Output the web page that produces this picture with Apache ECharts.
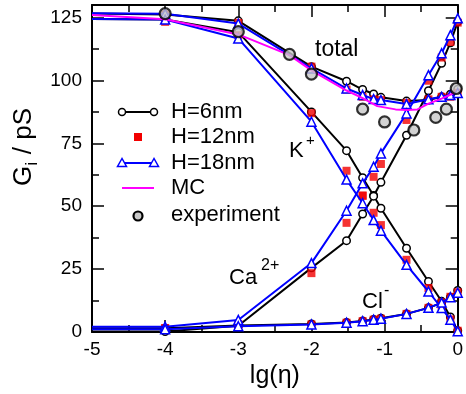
<!DOCTYPE html>
<html>
<head>
<meta charset="utf-8">
<script src="https://cdn.jsdelivr.net/npm/echarts@6/dist/echarts.min.js"></script>
<style>
  html, body { margin: 0; padding: 0; background: #fff; }
  #chart { width: 466px; height: 394px; }
</style>
</head>
<body>
<div id="chart"></div>
<script>
// --- data ---
// lg(eta) positions of the simulated points (first one has no marker)
const lgEta = [-5, -4, -3, -2, -1.52, -1.3, -1.15, -1.05, -0.7, -0.4, -0.22, -0.1, 0];

// H = 6 nm
const h6Total = [126.6, 126.2, 123.7, 105.5, 99.7, 96.4, 94.6, 93.3, 91.8, 92.2, 93.5, 94.5, 96.5];
const h6K     = [124.4, 124.2, 119.2, 87.5, 72.1, 61.3, 54.3, 49.2, 33.3, 20.1, 12.2, 6.0, 0.5];
const h6Ca    = [0.2, 0.2, 2.5, 25.5, 36.3, 46.9, 54.0, 59.5, 78.2, 95.9, 106.8, 115.0, 123.3];
const h6Cl    = [1.5, 1.5, 2.6, 3.2, 3.8, 4.4, 5.0, 5.5, 7.2, 9.6, 11.6, 13.8, 16.5];

// H = 12 nm (markers only, no point at -5)
const h12Total = [null, 126.3, 122.9, 105.5, 96.4, 93.5, 92.5, 92.2, 91.1, 92.5, 93.5, 93.5, 95.1];
const h12K     = [null, 123.3, 118.0, 87.0, 64.1, 54.3, 47.4, 42.5, 28.7, 17.5, 10.5, 5.0, 0.5];
const h12Ca    = [null, 1.5, 3.2, 23.4, 43.4, 54.1, 61.7, 66.8, 84.3, 99.9, 109.1, 115.3, 123.0];
const h12Cl    = [null, 1.5, 2.5, 3.0, 3.7, 4.3, 4.9, 5.3, 7.2, 9.6, 11.8, 14.0, 15.8];

// H = 18 nm
const h18Total = [126.7, 126.5, 122.6, 104.8, 96.8, 94.2, 92.6, 92.2, 90.6, 92.5, 93.5, 94.2, 95.0];
const h18K     = [124.4, 124.2, 116.7, 83.6, 60.6, 51.2, 44.5, 40.3, 26.7, 16.1, 9.5, 4.9, 0.3];
const h18Ca    = [2.1, 2.1, 4.8, 27.4, 48.2, 59.1, 65.7, 71.0, 86.9, 102.1, 110.8, 118.0, 124.7];
const h18Cl    = [1.1, 1.1, 2.3, 3.0, 3.7, 4.3, 4.9, 5.3, 7.2, 9.6, 11.7, 13.8, 15.6];

// Monte Carlo total
const mcX = [-5, -4, -3, -2.3, -2, -1.52, -1.3, -1.1, -0.85, -0.7, -0.55, -0.4, -0.22, -0.05];
const mcY = [126.0, 124.3, 118.3, 110.1, 104.0, 96.0, 93.0, 89.8, 88.5, 88.3, 88.5, 90.8, 92.8, 95.0];

// experiment
const expX = [-4, -3, -2.3, -2, -1.3, -1, -0.6, -0.3, -0.155, -0.02];
const expY = [126.6, 119.4, 110.4, 102.5, 88.6, 83.5, 80.3, 85.3, 88.6, 96.8];

const xTicks = ['-5', '-4', '-3', '-2', '-1', '0'];
const yTicks = ['0', '25', '50', '75', '100', '125'];

const FONT = '"Liberation Sans", Arial, Helvetica, sans-serif';

// --- helpers ---
const pts = (ys) => lgEta.map((x, i) => {
  if (ys[i] === null) return null;
  return i === 0 ? { value: [x, ys[i]], symbol: 'none' } : [x, ys[i]];
}).filter(d => d !== null);

const lineSeries = (ys, color, symbol, size) => ({
  type: 'line',
  data: pts(ys),
  symbol: symbol,
  symbolSize: size,
  showAllSymbol: true,
  clip: false,
  lineStyle: { color: color, width: 2 },
  itemStyle: { color: '#fff', borderColor: color, borderWidth: 1.5 },
  emphasis: { disabled: true },
  z: 2
});

const squareSeries = (ys) => ({
  type: 'scatter',
  data: pts(ys),
  symbol: 'rect',
  symbolSize: 8,
  clip: false,
  itemStyle: { color: '#f20000' },
  z: 3
});

const series = [];
[h6Total, h6K, h6Ca, h6Cl].forEach(s => series.push(lineSeries(s, '#000', 'circle', 7.5)));
[h12Total, h12K, h12Ca, h12Cl].forEach(s => series.push(squareSeries(s)));
[h18Total, h18K, h18Ca, h18Cl].forEach(s => {
  const o = lineSeries(s, '#0000ff', 'triangle', 9);
  o.z = 4;
  series.push(o);
});
series.push({
  type: 'line',
  data: mcX.map((x, i) => [x, mcY[i]]),
  showSymbol: false,
  lineStyle: { color: '#ff00ff', width: 2 },
  z: 5
});
series.push({
  type: 'scatter',
  data: expX.map((x, i) => [x, expY[i]]),
  symbol: 'circle',
  symbolSize: 11,
  clip: false,
  itemStyle: { color: '#c8c8c8', borderColor: '#000', borderWidth: 2.2 },
  z: 6
});

// --- legend / annotations as graphic ---
const text = (x, y, s, size) => ({
  type: 'text', x: x, y: y, z: 100,
  style: { text: s, font: `${size}px ${FONT}`, fill: '#000', verticalAlign: 'middle' }
});
const tri = (cx, cy) => ({
  type: 'polygon', z: 100,
  shape: { points: [[cx, cy - 4.5], [cx - 4.5, cy + 3.5], [cx + 4.5, cy + 3.5]] },
  style: { fill: '#fff', stroke: '#0000ff', lineWidth: 1.5 }
});
const circ = (cx, cy) => ({
  type: 'circle', z: 100, shape: { cx: cx, cy: cy, r: 3.5 },
  style: { fill: '#fff', stroke: '#000', lineWidth: 1.5 }
});

const graphic = [
  { type: 'line', z: 99, shape: { x1: 122, y1: 112, x2: 154, y2: 112 }, style: { stroke: '#000', lineWidth: 2 } },
  circ(122, 112), circ(154, 112),
  text(171, 112, 'H=6nm', 22),
  { type: 'rect', z: 100, shape: { x: 134, y: 133, width: 8, height: 8 }, style: { fill: '#f20000' } },
  text(171, 137, 'H=12nm', 22),
  { type: 'line', z: 99, shape: { x1: 122, y1: 163, x2: 154, y2: 163 }, style: { stroke: '#0000ff', lineWidth: 2 } },
  tri(122, 163), tri(154, 163),
  text(171, 163, 'H=18nm', 22),
  { type: 'line', z: 99, shape: { x1: 122, y1: 188, x2: 154, y2: 188 }, style: { stroke: '#ff00ff', lineWidth: 2 } },
  text(171, 188, 'MC', 22),
  { type: 'circle', z: 100, shape: { cx: 138, cy: 216, r: 4.5 }, style: { fill: '#c8c8c8', stroke: '#000', lineWidth: 2.2 } },
  text(171, 215, 'experiment', 22),
  text(315, 50, 'total', 23),
  text(289, 151, 'K', 22),
  text(306, 141, '+', 15),
  text(229, 278, 'Ca', 22),
  text(261, 266, '2+', 16),
  text(362, 302, 'Cl', 22),
  text(384, 291, '-', 16),
  // y axis title, rotated, with subscript
  {
    type: 'group', x: 24, y: 147, rotation: Math.PI / 2, z: 100,
    children: [
      { type: 'text', x: -39, y: 0, style: { text: 'G', font: `26px ${FONT}`, fill: '#000', verticalAlign: 'middle' } },
      { type: 'text', x: -18.5, y: 9, style: { text: 'i', font: `16px ${FONT}`, fill: '#000', verticalAlign: 'middle' } },
      { type: 'text', x: -14.5, y: 0, style: { text: ' / pS', font: `26px ${FONT}`, fill: '#000', verticalAlign: 'middle' } }
    ]
  }
];

const axisCommon = {
  axisLine: { show: true, onZero: false, lineStyle: { color: '#000', width: 2 } },
  axisTick: { show: true, inside: true, length: 12, lineStyle: { color: '#000', width: 1.5 } },
  minorTick: { show: true, splitNumber: 2, length: 7, lineStyle: { color: '#000', width: 1.5 } },
  splitLine: { show: false }
};

const chart = echarts.init(document.getElementById('chart'), null, { renderer: 'canvas' });
chart.setOption({
  backgroundColor: '#fff',
  animation: false,
  grid: { left: 92, right: 5, top: 5, bottom: 62 },
  xAxis: [
    Object.assign({
      type: 'value', min: -5, max: 0, interval: 1, position: 'bottom',
      name: 'lg(η)', nameLocation: 'middle', nameGap: 26,
      nameTextStyle: { fontFamily: FONT, fontSize: 25, color: '#000' },
      axisLabel: {
        color: '#000', fontFamily: FONT, fontSize: 19, margin: 8,
        formatter: (v) => xTicks[Math.round(v) + 5]
      }
    }, axisCommon),
    Object.assign({
      type: 'value', min: -5, max: 0, interval: 1, position: 'top',
      axisLabel: { show: false }
    }, axisCommon)
  ],
  yAxis: [
    Object.assign({
      type: 'value', min: 0, max: 130, interval: 25, position: 'left',
      axisLabel: {
        color: '#000', fontFamily: FONT, fontSize: 19, margin: 10, showMaxLabel: false,
        formatter: (v) => (v % 25 === 0 ? yTicks[v / 25] : '')
      }
    }, axisCommon),
    Object.assign({
      type: 'value', min: 0, max: 130, interval: 25, position: 'right',
      axisLabel: { show: false }
    }, axisCommon)
  ],
  series: series,
  graphic: graphic
});
</script>
</body>
</html>
